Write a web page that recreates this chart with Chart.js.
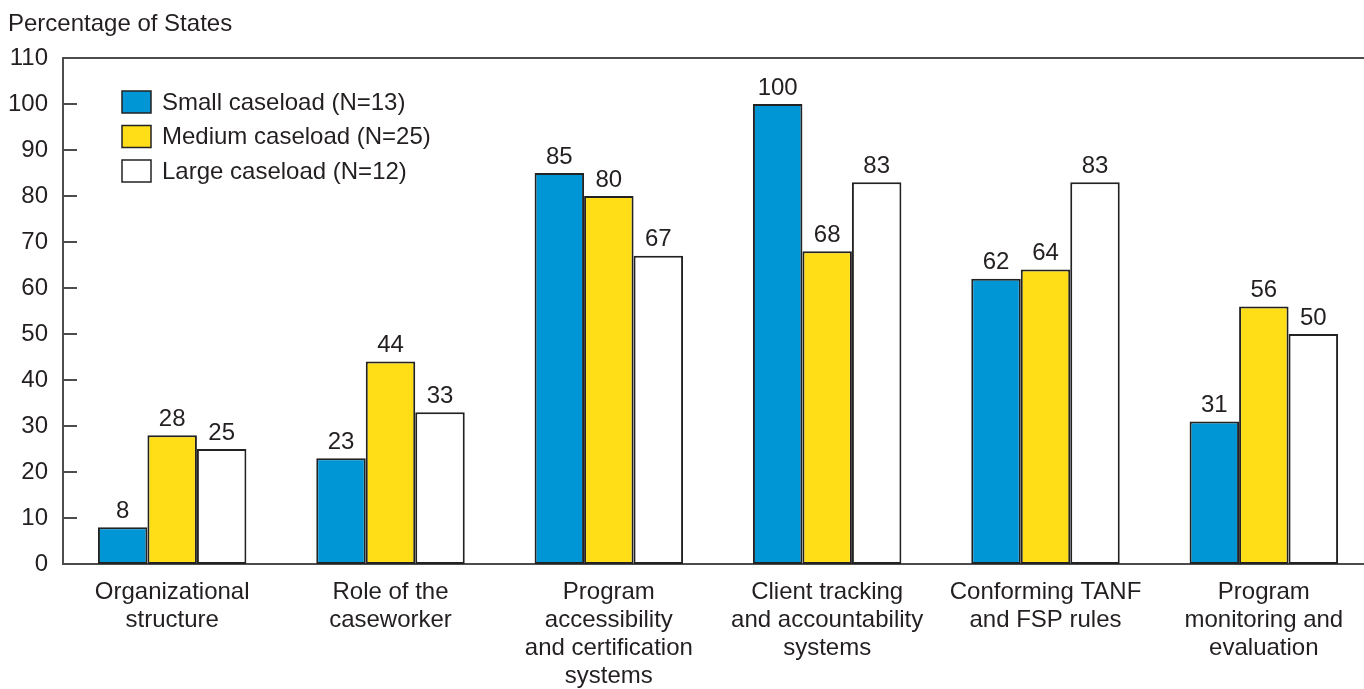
<!DOCTYPE html>
<html>
<head>
<meta charset="utf-8">
<script src="https://cdn.jsdelivr.net/npm/chart.js@4.4.1/dist/chart.umd.min.js"></script>
<style>
  html, body { margin: 0; padding: 0; overflow: hidden; background: #fff; }
</style>
</head>
<body>
<canvas id="chart" width="1373" height="689"></canvas>
<script>
// categories (multi-line labels) and series values
const categories = [
  ['Organizational', 'structure'],
  ['Role of the', 'caseworker'],
  ['Program', 'accessibility', 'and certification', 'systems'],
  ['Client tracking', 'and accountability', 'systems'],
  ['Conforming TANF', 'and FSP rules'],
  ['Program', 'monitoring and', 'evaluation']
];
const smallCaseload = [8, 23, 85, 100, 62, 31];
const mediumCaseload = [28, 44, 80, 68, 64, 56];
const largeCaseload = [25, 33, 67, 83, 83, 50];
const seriesNames = ['Small caseload (N=13)', 'Medium caseload (N=25)', 'Large caseload (N=12)'];
const seriesColors = ['#0096D6', '#FFDD17', '#FFFFFF'];
const yTitle = 'Percentage of States';

const FONT = '"Liberation Sans", Arial, sans-serif';
const TEXT = '#231f20';
const AXIS = '#4d4d4d';

// value labels above each bar
const valueLabels = {
  id: 'valueLabels',
  afterDatasetsDraw(chart) {
    const ctx = chart.ctx;
    ctx.save();
    ctx.font = '24px ' + FONT;
    ctx.fillStyle = TEXT;
    ctx.textAlign = 'center';
    ctx.textBaseline = 'bottom';
    chart.data.datasets.forEach((ds, i) => {
      chart.getDatasetMeta(i).data.forEach((bar, j) => {
        ctx.fillText(ds.data[j], bar.x, bar.y - 4);
      });
    });
    ctx.restore();
  }
};

// axis decorations: top frame line, inner tick marks, title, legend
const decorations = {
  id: 'decorations',
  afterDraw(chart) {
    const ctx = chart.ctx;
    const area = chart.chartArea;
    const y = chart.scales.y;
    ctx.save();
    ctx.strokeStyle = AXIS;
    ctx.lineWidth = 2;
    ctx.beginPath();
    ctx.moveTo(area.left, area.top);
    ctx.lineTo(chart.width, area.top);
    y.ticks.forEach(t => {
      if (t.value > 0 && t.value < 110) {
        const py = Math.round(y.getPixelForValue(t.value));
        ctx.moveTo(area.left, py);
        ctx.lineTo(area.left + 14, py);
      }
    });
    ctx.stroke();

    ctx.font = '24px ' + FONT;
    ctx.fillStyle = TEXT;
    ctx.textAlign = 'left';
    ctx.textBaseline = 'middle';
    ctx.fillText(yTitle, 8, 24);

    // legend
    chart.data.datasets.forEach((ds, i) => {
      const cy = 102 + i * 34.5;
      ctx.fillStyle = ds.backgroundColor;
      ctx.fillRect(122, cy - 11, 29, 22);
      ctx.strokeStyle = '#222';
      ctx.lineWidth = 1.5;
      ctx.strokeRect(122, cy - 11, 29, 22);
      ctx.fillStyle = TEXT;
      ctx.fillText(ds.label, 162, cy + 1);
    });
    ctx.restore();
  }
};

new Chart(document.getElementById('chart'), {
  type: 'bar',
  data: {
    labels: categories,
    datasets: [
      { label: seriesNames[0], data: smallCaseload, backgroundColor: seriesColors[0] },
      { label: seriesNames[1], data: mediumCaseload, backgroundColor: seriesColors[1] },
      { label: seriesNames[2], data: largeCaseload, backgroundColor: seriesColors[2] }
    ]
  },
  options: {
    responsive: false,
    animation: false,
    layout: { padding: { top: 58, left: 0, right: 0, bottom: 0 } },
    datasets: {
      bar: {
        borderColor: '#222',
        borderWidth: 2,
        borderSkipped: false,
        categoryPercentage: 0.68,
        barPercentage: 1.0
      }
    },
    scales: {
      x: {
        grid: { display: false, drawTicks: false },
        border: { display: true, color: AXIS, width: 2 },
        ticks: {
          color: TEXT,
          font: { family: FONT, size: 24, lineHeight: 1.167 },
          padding: 14,
          maxRotation: 0,
          autoSkip: false
        },
        afterFit(scale) { scale.height = 125; }
      },
      y: {
        min: 0,
        max: 110,
        grid: { display: false, drawTicks: false },
        border: { display: true, color: AXIS, width: 2 },
        ticks: {
          stepSize: 10,
          color: TEXT,
          font: { family: FONT, size: 24 },
          padding: 15
        },
        afterFit(scale) { scale.width = 63; }
      }
    },
    plugins: {
      legend: { display: false },
      tooltip: { enabled: false }
    }
  },
  plugins: [valueLabels, decorations]
});
</script>
</body>
</html>
